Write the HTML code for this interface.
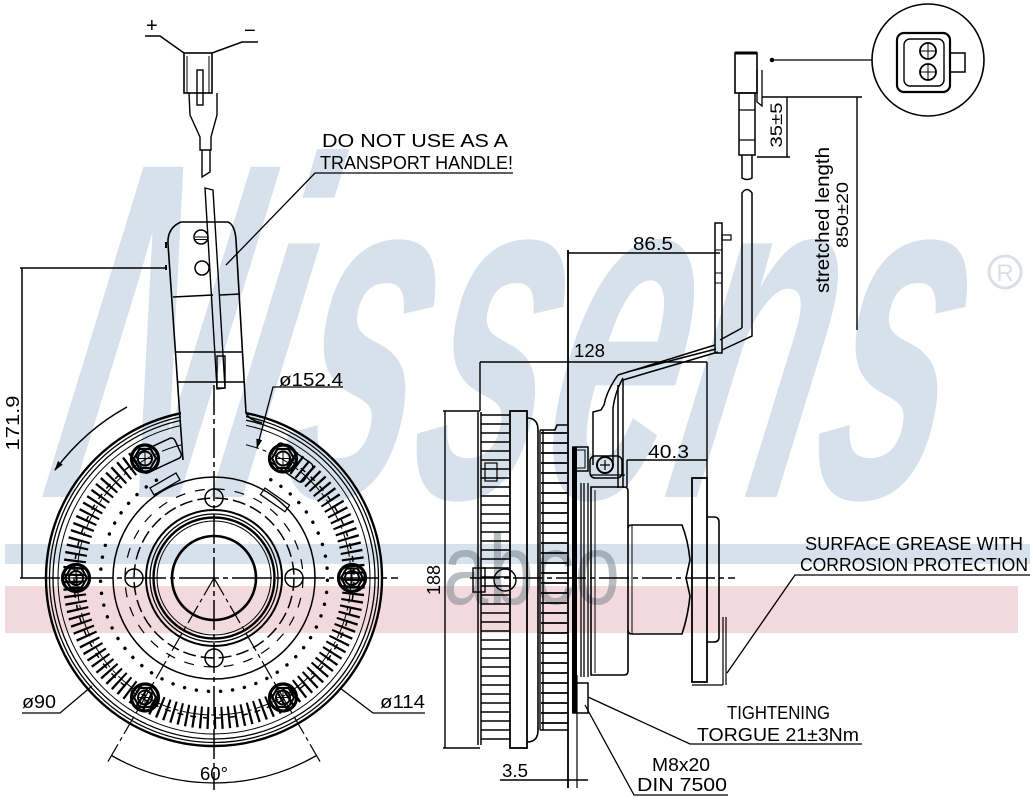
<!DOCTYPE html>
<html><head><meta charset="utf-8">
<style>
html,body{margin:0;padding:0;background:#fff;}
svg{display:block;}
text{font-family:"Liberation Sans",sans-serif;}
</style></head><body>
<svg width="1033" height="800" viewBox="0 0 1033 800" xmlns="http://www.w3.org/2000/svg">
<defs>
<pattern id="fin1" width="100" height="9" patternUnits="userSpaceOnUse" x="0" y="414"><line x1="0" y1="1" x2="100" y2="1" stroke="#000" stroke-width="1.6"/></pattern>
<pattern id="fin2" width="100" height="10" patternUnits="userSpaceOnUse" x="0" y="432"><line x1="0" y1="1" x2="100" y2="1" stroke="#000" stroke-width="1.8"/></pattern>
<clipPath id="ch"><path clip-rule="evenodd" d="M0 0H1033V800H0Z M181 370H246V452H181Z"/></clipPath>
<marker id="ah" markerWidth="10" markerHeight="6" refX="9" refY="3" orient="auto" markerUnits="userSpaceOnUse"><path d="M0 0L10 3L0 6Z" fill="#000"/></marker>
<g id="bolt" fill="none" stroke="#000">
<circle r="13.5" stroke-width="3.2"/>
<polygon points="11,0 5.5,9.5 -5.5,9.5 -11,0 -5.5,-9.5 5.5,-9.5" stroke-width="2.2"/>
<circle r="7" stroke-width="2"/>
<path d="M-7 0H7M0 -7V7" stroke-width="1"/>
</g>
</defs>

<!-- watermark -->
<g transform="translate(0,497) skewX(-12) translate(0,-497)">
<text x="38" y="497" font-size="480" font-weight="bold" font-style="italic" textLength="895" lengthAdjust="spacingAndGlyphs" fill="#d6e1eb">Nissens</text>
</g>
<circle cx="1005" cy="272" r="16" fill="none" stroke="#d6e1eb" stroke-width="3"/>
<text x="1005" y="281" font-size="24" text-anchor="middle" fill="#d6e1eb">R</text>
<rect x="5" y="544" width="1025" height="20" fill="#d6e1eb"/>
<rect x="5" y="586" width="1013" height="47" fill="#f2d9de"/>
<text x="443" y="604" font-size="100" textLength="177" lengthAdjust="spacingAndGlyphs" fill="#7d8790" fill-opacity="0.55">abco</text>

<!-- ================= FRONT VIEW ================= -->
<g fill="none" stroke="#000">
<g clip-path="url(#ch)">
<circle cx="214" cy="578" r="168" stroke-width="2.4"/>
<circle cx="214" cy="578" r="164.5" stroke-width="1.3"/>
<circle cx="214" cy="578" r="161" stroke-width="1.3"/>
<circle cx="214" cy="578" r="156" stroke-width="1"/>
<circle cx="214" cy="578" r="137" stroke-width="1" stroke-dasharray="25 4 4 4"/>
</g>
<!-- ticks -->
<path d="M290.2 460.6 A140 140 0 1 1 137.8 460.6" stroke-width="22" stroke-dasharray="2.2 4.8"/>
<path d="M290.2 460.6 A140 140 0 1 1 137.8 460.6" stroke-width="1.5" stroke-dasharray="6 7"/>
<!-- dots -->
<path d="M270.75 479.7 A113.5 113.5 0 1 1 157.25 479.7" stroke-width="3.4" stroke-linecap="round" stroke-dasharray="0.1 12"/>
<circle cx="214" cy="578" r="101" stroke-width="1.5"/>
<circle cx="214" cy="578" r="89" stroke-width="1.2" stroke-dasharray="10 10"/>
<circle cx="214" cy="578" r="80" stroke-width="1.5" stroke-dasharray="13 5"/>
<!-- hub -->
<circle cx="214" cy="578" r="68" stroke-width="2"/>
<circle cx="214" cy="578" r="64" stroke-width="1.3"/>
<circle cx="214" cy="578" r="60.5" stroke-width="2.4"/>
<circle cx="214" cy="578" r="57" stroke-width="1"/>
<circle cx="214" cy="578" r="42" stroke-width="2.6"/>
<!-- small holes -->
<circle cx="134" cy="578" r="9" stroke-width="1.5"/>
<circle cx="294" cy="578" r="9" stroke-width="1.5"/>
<circle cx="214" cy="498" r="9" stroke-width="1.5"/>
<circle cx="214" cy="658" r="9" stroke-width="1.5"/>
<!-- center lines -->
<line x1="20" y1="578" x2="398" y2="578" stroke-width="1.5" stroke-dasharray="40 4 5 4"/>
<line x1="214" y1="385" x2="214" y2="790" stroke-width="1.5" stroke-dasharray="30 4 5 4"/>
<line x1="214" y1="578" x2="106" y2="765" stroke-width="1.2" stroke-dasharray="20 4 4 4"/>
<line x1="214" y1="578" x2="322" y2="765" stroke-width="1.2" stroke-dasharray="20 4 4 4"/>
<path d="M111.5 755.5 A205 205 0 0 0 316.5 755.5" stroke-width="1.3"/>
<!-- bolt brackets -->
<rect x="-20" y="-11" width="42" height="22" rx="4" transform="translate(158,456) rotate(-25)" stroke-width="1.5"/>
<rect x="-20" y="-11" width="42" height="22" rx="4" transform="translate(290,462) rotate(35)" stroke-width="1.5"/>
<rect x="0" y="0" width="30" height="8" transform="translate(150,488) rotate(-30)" stroke-width="1.3"/>
<rect x="0" y="0" width="30" height="8" transform="translate(265,488) rotate(35)" stroke-width="1.3"/>
<!-- handle -->
<path d="M183 460 L180 418 L168 244 Q167 228 181 222 L228 222 Q235 225 236 240 L246 413 Q249 420 262 423" stroke-width="1.6"/>
<path d="M166 248 L166 242 M166 270 L166 265" stroke-width="2"/>
<path d="M205 188 L213 190 L225 388 L217 389 Z" stroke-width="1.4"/>
<rect x="217" y="356" width="8" height="32" stroke-width="1.4"/>
<path d="M173 297 L213 295 M220 295 L240 294 M175 352 L242 352 M177 382 L245 382" stroke-width="1.4"/>
<circle cx="201" cy="237" r="7" stroke-width="1.5"/>
<path d="M195 237 H208 M195 239.5 H208" stroke-width="1"/>
<circle cx="202" cy="268" r="7" stroke-width="1.5"/>
<!-- top connector -->
<path d="M145 36 H160 L184 53 M258 42 H242 L212 53" stroke-width="1.5"/>
<rect x="184" y="53" width="28" height="40" stroke-width="1.6"/>
<path d="M187 56 V93 M209 56 V93" stroke-width="1"/>
<rect x="197" y="70" width="6" height="35" stroke-width="1.4"/>
<path d="M189 93 L190 115 L200 137 V150 H211 V137 L217 115 V93" stroke-width="1.4"/>
<path d="M202 150 V177 L210 172 V150" stroke-width="1.4"/>
<!-- dims front -->
<path d="M20 268 H167 M22 268 V578" stroke-width="1.5"/>
<path d="M127 407 Q85 430 55 470" stroke-width="1.5" marker-end="url(#ah)"/>
<path d="M343 387 H273 L257 448" stroke-width="1.3" marker-end="url(#ah)"/>
<path d="M513 173 H315 L226 265" stroke-width="1.3"/>
<path d="M22 713 H60 L92 686" stroke-width="1.3"/>
<path d="M425 713 H373 L340 688" stroke-width="1.3"/>
</g>
<use href="#bolt" x="352" y="578"/>
<use href="#bolt" x="76" y="578"/>
<use href="#bolt" x="283" y="697.5"/>
<use href="#bolt" x="145" y="697.5"/>
<use href="#bolt" x="283" y="458.5"/>
<use href="#bolt" x="145" y="458.5"/>

<!-- ================= SIDE VIEW ================= -->
<g fill="none" stroke="#000">
<!-- 188 dim -->
<path d="M445 411 V748 M443 411 H480 M443 748 H480" stroke-width="1.4"/>
<!-- rear disc -->
<rect x="481" y="414" width="29" height="331" fill="url(#fin1)" stroke="none"/>
<path d="M478 412 V745 M481 412 V745" stroke-width="1.5"/>
<rect x="510" y="411" width="17" height="337" stroke-width="1.8"/>
<path d="M527 418 Q538 418 538 430 V730 Q538 742 527 742" stroke-width="1.6"/>
<rect x="485" y="463" width="12" height="18" stroke-width="1.2"/>
<rect x="473" y="568" width="12" height="24" stroke-width="1.4"/>
<circle cx="505" cy="580" r="11" stroke-width="1.4"/>
<!-- front fins -->
<rect x="541" y="432" width="27" height="296" fill="url(#fin2)" stroke="none"/>
<path d="M540 430 V730 M543 430 V730" stroke-width="1.4"/>
<path d="M540 430 H555 L557 425 H568 M540 730 H568" stroke-width="1.6"/>
<line x1="568" y1="250" x2="568" y2="788" stroke-width="1.8"/>
<line x1="577" y1="675" x2="577" y2="788" stroke-width="1.2"/>
<!-- pulley -->
<rect x="572" y="447" width="5" height="266" fill="#000" stroke="none"/>
<path d="M581 483 V677 M584 483 V677 M588 483 V677" stroke-width="1.3"/>
<rect x="573" y="447" width="15" height="24" stroke-width="1.5"/>
<rect x="576" y="450" width="9" height="18" stroke-width="1"/>
<rect x="573" y="683" width="15" height="30" stroke-width="1.5"/>
<!-- body -->
<path d="M591 487 H624 Q628 487 628 491 V671 Q628 675 624 675 H591 Z" stroke-width="1.6"/>
<line x1="595" y1="490" x2="595" y2="673" stroke-width="1"/>
<!-- neck -->
<path d="M628 528 Q628 525 632 525 H682 Q688 540 690 560 L686 578 L690 596 Q688 616 682 634 H632 Q628 634 628 630" stroke-width="1.6"/>
<path d="M632 525 V634" stroke-width="1"/>
<rect x="692" y="478" width="15" height="204" stroke-width="1.8"/>
<path d="M707 517 H714 Q719 517 719 522 V637 Q719 642 714 642 H707" stroke-width="1.6"/>
<path d="M692 685 H723 M723 617 V685 M726 617 V685" stroke-width="1.2"/>
<line x1="470" y1="578" x2="735" y2="578" stroke-width="1.4" stroke-dasharray="30 4 5 4"/>
<!-- upper bracket/ connector -->
<path d="M593 465 V412 L601 410 L604 405 Q607 390 618 375" stroke-width="1.5"/>
<path d="M613 465 V408 Q615 392 623 378" stroke-width="1.5"/>
<path d="M618 385 V488 M623 380 V488" stroke-width="1.5"/>
<rect x="590" y="456" width="32" height="22" rx="5" stroke-width="1.5"/>
<circle cx="605" cy="465" r="8" stroke-width="2"/>
<path d="M600 465 H610 M605 460 V470" stroke-width="1.2"/>
<path d="M590 475 H625" stroke-width="1.2"/>
<path d="M618 375 L715 345 M623 380 L718 352 M627 372 L716 349" stroke-width="1.5"/>
<rect x="715" y="223" width="7" height="130" stroke-width="1.5"/>
<path d="M715 250 H722 M715 273 H722 M715 283 H722" stroke-width="1"/>
<rect x="722" y="235" width="9" height="5" stroke-width="1.2"/>
<!-- cable -->
<path d="M742 328 V193 Q747 186 752 193 V336 L722 350" stroke-width="1.5"/>
<path d="M742 328 L720 340" stroke-width="1.5"/>
<rect x="735" y="53" width="22" height="40" stroke-width="1.6"/>
<line x1="735" y1="53" x2="757" y2="53" stroke-width="3"/>
<path d="M757 70 V102 L762 106 V70" stroke-width="1.3"/>
<rect x="739" y="93" width="16" height="62" stroke-width="1.5"/>
<path d="M739 110 H755 M739 140 H755" stroke-width="1.2"/>
<path d="M742 155 V178 Q747 181 752 178 V155" stroke-width="1.5"/>
<!-- detail circle -->
<path d="M772 60 H872" stroke-width="1.3"/>
<circle cx="772" cy="60" r="1.8" fill="#000"/>
<circle cx="928" cy="60" r="56" stroke-width="1.6"/>
<rect x="897" y="33" width="53" height="59" rx="7" stroke-width="2.2"/>
<rect x="904" y="39" width="40" height="47" rx="6" stroke-width="1.4"/>
<circle cx="928" cy="51" r="8" stroke-width="1.8"/>
<circle cx="928" cy="72" r="8" stroke-width="1.8"/>
<path d="M920 51 H936 M928 43 V59 M920 72 H936 M928 64 V80" stroke-width="1"/>
<rect x="950" y="53" width="15" height="19" stroke-width="1.5"/>
<!-- dims side -->
<path d="M762 97 H862 M757 157 H790 M787 97 V157 M857 97 V330" stroke-width="1.4"/>
<path d="M568 253 H720" stroke-width="1.4"/>
<path d="M480 362 H707 M480 362 V411 M707 362 V478" stroke-width="1.4"/>
<path d="M627 460 H707 M627 460 V487" stroke-width="1.4"/>
<path d="M500 780 H588" stroke-width="1.4"/>
<!-- leaders -->
<path d="M588 697 L690 744 H862" stroke-width="1.3"/>
<path d="M585 705 L634 795 H728" stroke-width="1.3"/>
<path d="M727 673 L795 575 H1030" stroke-width="1.3"/>
</g>

<!-- ================= LABELS ================= -->
<g fill="#000" font-size="18">
<text x="146" y="32" font-size="20">+</text>
<text x="244" y="37" font-size="20">−</text>
<text x="322" y="147" textLength="186" lengthAdjust="spacingAndGlyphs">DO NOT USE AS A</text>
<text x="320" y="169" textLength="193" lengthAdjust="spacingAndGlyphs">TRANSPORT HANDLE!</text>
<text x="279" y="386" textLength="64" lengthAdjust="spacingAndGlyphs">ø152.4</text>
<text transform="translate(19,423) rotate(-90)" text-anchor="middle" textLength="55" lengthAdjust="spacingAndGlyphs">171.9</text>
<text x="22" y="708" textLength="34" lengthAdjust="spacingAndGlyphs">ø90</text>
<text x="380" y="708" textLength="45" lengthAdjust="spacingAndGlyphs">ø114</text>
<text x="200" y="780" textLength="28" lengthAdjust="spacingAndGlyphs">60°</text>
<text transform="translate(440,580) rotate(-90)" text-anchor="middle" textLength="30" lengthAdjust="spacingAndGlyphs">188</text>
<text x="574" y="357" textLength="31" lengthAdjust="spacingAndGlyphs">128</text>
<text x="633" y="250" textLength="40" lengthAdjust="spacingAndGlyphs">86.5</text>
<text x="648" y="458" textLength="41" lengthAdjust="spacingAndGlyphs">40.3</text>
<text x="502" y="777" textLength="26" lengthAdjust="spacingAndGlyphs">3.5</text>
<text x="727" y="719" textLength="103" lengthAdjust="spacingAndGlyphs">TIGHTENING</text>
<text x="697" y="741" textLength="162" lengthAdjust="spacingAndGlyphs">TORGUE 21±3Nm</text>
<text x="652" y="771" textLength="58" lengthAdjust="spacingAndGlyphs">M8x20</text>
<text x="637" y="791" textLength="90" lengthAdjust="spacingAndGlyphs">DIN 7500</text>
<text x="805" y="550" textLength="218" lengthAdjust="spacingAndGlyphs">SURFACE GREASE WITH</text>
<text x="800" y="571" textLength="228" lengthAdjust="spacingAndGlyphs">CORROSION PROTECTION</text>
<text transform="translate(829,220) rotate(-90)" text-anchor="middle" font-size="19" textLength="146" lengthAdjust="spacingAndGlyphs">stretched length</text>
<text transform="translate(848,215) rotate(-90)" text-anchor="middle" font-size="17" textLength="66" lengthAdjust="spacingAndGlyphs">850±20</text>
<text transform="translate(782,125) rotate(-90)" text-anchor="middle" font-size="17" textLength="45" lengthAdjust="spacingAndGlyphs">35±5</text>
</g>
</svg>
</body></html>
